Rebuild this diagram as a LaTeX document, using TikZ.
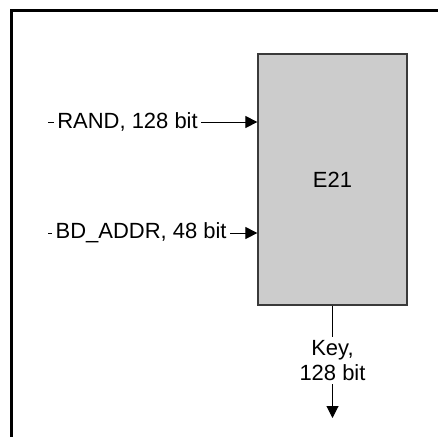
\documentclass[tikz,border=0pt]{standalone}
\usepackage{fontspec}
\setmainfont{Liberation Sans}
\usepackage{tikz}
\usetikzlibrary{arrows.meta,calc,positioning}
\definecolor{boxGray}{HTML}{CCCCCC}
\definecolor{edgeGray}{HTML}{3A3A3A}
\tikzset{
  signal/.style={-{Triangle[length=2.4mm,width=2.4mm]}, line width=0.2mm,
    draw=black},
  signal label/.style={fill=white, inner xsep=2pt, inner ysep=2pt,
    align=center, font=\fontsize{12.5}{14.3}\selectfont},
  cipher box/.style={draw=edgeGray, fill=boxGray, line width=0.25mm,
    minimum width=29.8mm, minimum height=50.2mm, inner sep=0pt,
    font=\fontsize{12.5}{14.3}\selectfont},
  frame/.style={draw=black, line width=0.6mm}
}
\begin{document}
\begin{tikzpicture}[x=0.2mm, y=-0.2mm]
  \useasboundingbox (0,0) rectangle (438,436);
  \draw[frame] (11,10) rectangle (470,470);

  \node[cipher box] (e21) at (332.5,179.5) {E21};

  \coordinate (rand) at (48,122);
  \coordinate (bdaddr) at (48,233);
  \coordinate (key) at (332.5,418);

  \draw[signal] (rand) -- (e21.west |- rand)
    node[signal label, pos=0.38] {RAND, 128 bit};
  \draw[signal] (bdaddr) -- (e21.west |- bdaddr)
    node[signal label, pos=0.445] {BD\_ADDR, 48 bit};
  \draw[signal] (e21.south) -- (key)
    node[signal label, pos=0.49] {Key,\\128 bit};
\end{tikzpicture}
\end{document}
